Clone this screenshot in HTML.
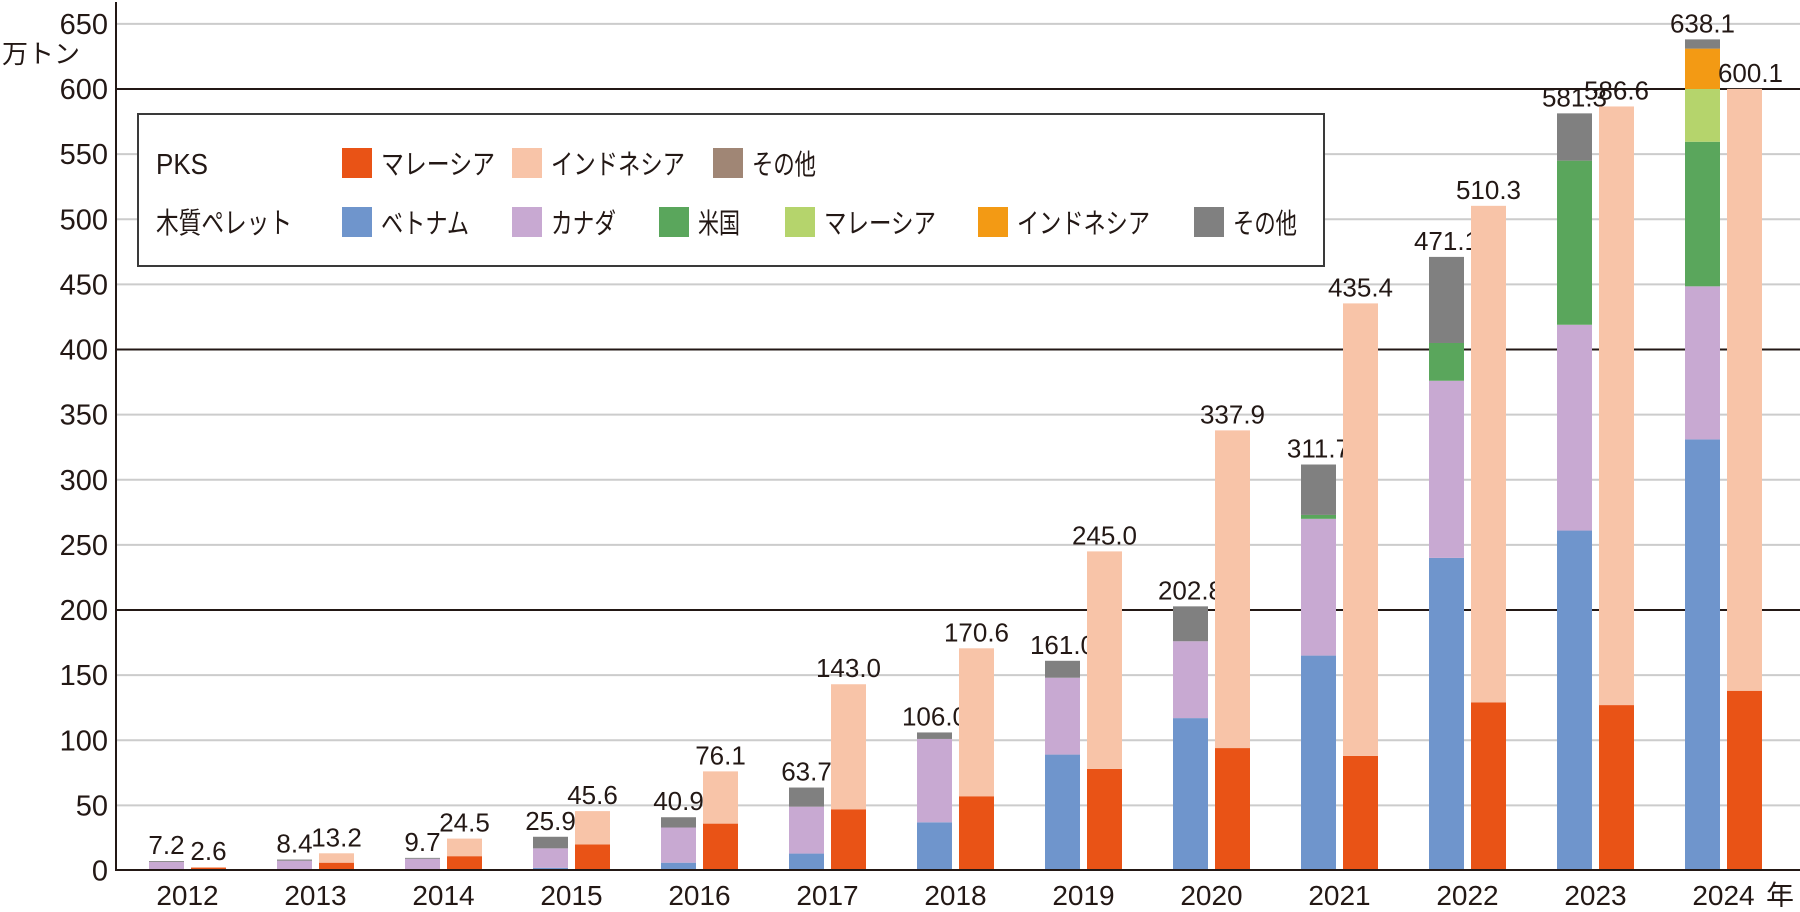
<!DOCTYPE html>
<html><head><meta charset="utf-8"><style>
html,body{margin:0;padding:0;background:#fff;}
svg text{font-family:"Liberation Sans","Noto Sans CJK JP",sans-serif;fill:#231815;}
</style></head><body>
<svg width="1800" height="907" viewBox="0 0 1800 907" xmlns="http://www.w3.org/2000/svg" id="c"></svg>
<script>
const s=document.getElementById('c');const NS='http://www.w3.org/2000/svg';
function el(t,a,txt){const e=document.createElementNS(NS,t);for(const k in a)e.setAttribute(k,a[k]);if(txt!==undefined)e.textContent=txt;s.appendChild(e);return e;}
const Y0=870.5,K=1.3025;const y=v=>Y0-v*K;
for(let v=50;v<=650;v+=50){const blk=(v%200===0);el('line',{x1:116,x2:1800,y1:y(v),y2:y(v),stroke:blk?'#231815':'#cccccc','stroke-width':2});}
for(let v=0;v<=650;v+=50){el('text',{x:108,y:y(v)+10,'font-size':29,'text-anchor':'end'},String(v));}
el('text',{x:2,y:63,'font-size':26},'万トン');
const C={vn:'#6f95cc',ca:'#c8a9d2',us:'#5aa65c',mp:'#b5d46c',ip:'#f39a14',op:'#808080',mk:'#e95316',ik:'#f8c4a8',ok:'#a08675'};
const P=[[0,6.5,0,0,0,0.7],[0,7.5,0,0,0,0.9],[0,9,0,0,0,0.7],[2,15,0,0,0,8.9],[6,27,0,0,0,7.9],[13,36,0,0,0,14.7],[37,64,0,0,0,5],[89,59,0,0,0,13],[117,59,0,0,0,26.8],[165,105,3,0,0,38.7],[240,136,29,0,0,66.1],[261,158,126,0,0,36.3],[331,117.5,111,40.5,31,7.1]];
const PT=['7.2','8.4','9.7','25.9','40.9','63.7','106.0','161.0','202.8','311.7','471.1','581.3','638.1'];
const Q=[[2.2,0.4],[6,7.2],[11,13.5],[20,25.6],[36,40.1],[47,96],[57,113.6],[78,167],[94,243.9],[88,347.4],[129,381.3],[127,459.6],[138,462.1]];
const QT=['2.6','13.2','24.5','45.6','76.1','143.0','170.6','245.0','337.9','435.4','510.3','586.6','600.1'];
const pc=[C.vn,C.ca,C.us,C.mp,C.ip,C.op];
for(let i=0;i<13;i++){
 const x=149+128*i,W=35;let acc=0;
 P[i].forEach((v,j)=>{if(v>0){el('rect',{x:x,y:y(acc+v),width:W,height:v*K,fill:pc[j]});acc+=v;}});
 el('text',{x:x+W/2,y:y(acc)-7,'font-size':26,'text-anchor':'middle'},PT[i]);
 const x2=x+42;acc=0;
 [C.mk,C.ik].forEach((c,j)=>{const v=Q[i][j];el('rect',{x:x2,y:y(acc+v),width:W,height:v*K,fill:c});acc+=v;});
 el('text',{x:x2+W/2+(i==12?6:0),y:y(acc)-7,'font-size':26,'text-anchor':'middle'},QT[i]);
 el('text',{x:x+38.5,y:905,'font-size':28,'text-anchor':'middle'},String(2012+i));
}
el('text',{x:1810-44,y:905,'font-size':28},'年');
el('line',{x1:116,x2:116,y1:2,y2:871,stroke:'#231815','stroke-width':2});
el('line',{x1:116,x2:1800,y1:870,y2:870,stroke:'#231815','stroke-width':2});
// legend
el('rect',{x:138,y:114,width:1186,height:152,fill:'#fff',stroke:'#3a3a3a','stroke-width':2});
el('text',{x:156,y:174,'font-size':29,textLength:52,lengthAdjust:'spacingAndGlyphs'},'PKS');
el('text',{x:156,y:233,'font-size':29,textLength:136,lengthAdjust:'spacingAndGlyphs'},'木質ペレット');
const L=[[342,163,C.mk,'マレーシア',114],[512,163,C.ik,'インドネシア',134],[713,163,C.ok,'その他',64],[342,222,C.vn,'ベトナム',88],[512,222,C.ca,'カナダ',65],[659,222,C.us,'米国',42],[785,222,C.mp,'マレーシア',112],[978,222,C.ip,'インドネシア',133],[1194,222,C.op,'その他',64]];
L.forEach(([x,cy,c,t,w])=>{el('rect',{x:x,y:cy-15,width:30,height:30,fill:c});el('text',{x:x+39,y:cy+11,'font-size':28,textLength:w,lengthAdjust:'spacingAndGlyphs'},t);});
</script>
</body></html>
